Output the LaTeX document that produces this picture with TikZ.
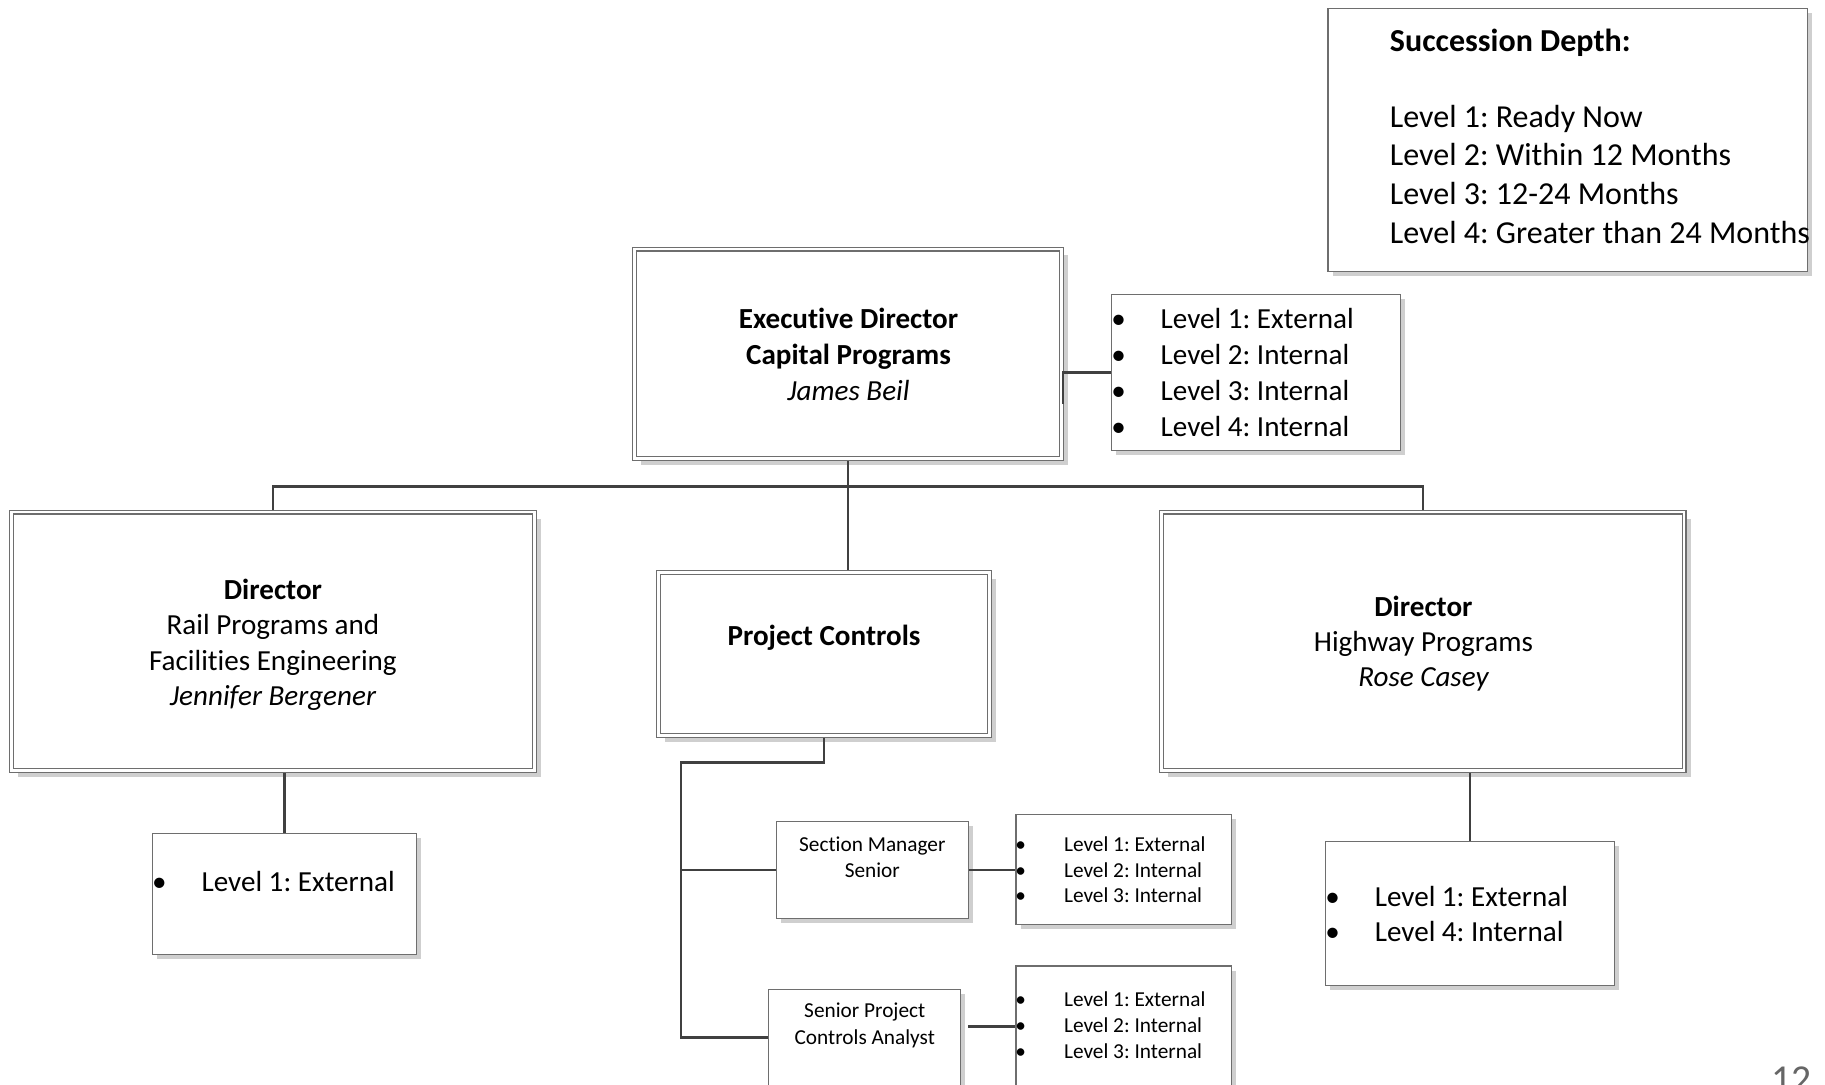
\documentclass[tikz,border=0pt]{standalone}
\usepackage{fontspec}
\setmainfont{Carlito}[Ligatures={NoCommon}]
\frenchspacing
\usetikzlibrary{shadows}
\definecolor{linec}{HTML}{404040}
\definecolor{boxc}{HTML}{6E6E6E}
\definecolor{shadowc}{HTML}{CFCFCF}
\definecolor{pagec}{HTML}{666666}
\begin{document}
\begin{tikzpicture}[x=1pt,y=-1pt,
  conn/.style={draw=linec, line width=2pt},
  dbox/.style={shape=rectangle, draw=boxc, line width=1pt, double=white, double distance=2.2pt,
    fill=white, inner sep=0pt, outer sep=2.1pt,
    drop shadow={shadow xshift=5.5pt, shadow yshift=-5.5pt, fill=shadowc, draw=none, opacity=1}},
  sbox/.style={shape=rectangle, draw=boxc, line width=1.1pt, fill=white, inner sep=0pt, outer sep=0.55pt,
    drop shadow={shadow xshift=4pt, shadow yshift=-4pt, fill=shadowc, draw=none, opacity=1}},
  tbig/.style={font=\fontsize{25}{30}\selectfont, inner sep=0pt, anchor=base, yshift=-1.5pt},
  tbigl/.style={tbig, anchor=base west},
  tleg/.style={font=\fontsize{27.5}{33}\selectfont, inner sep=0pt, anchor=base west, yshift=-1.5pt},
  tsm/.style={font=\fontsize{18.3}{22}\selectfont, inner sep=0pt, anchor=base, yshift=-1pt},
  tsml/.style={tsm, anchor=base west},
]
\useasboundingbox (0,0) rectangle (1568,932);
\clip (0,0) rectangle (1568,932);
\fill[white] (0,0) rectangle (1568,932);

% ---------- boxes ----------
\node[sbox, minimum width=412pt, minimum height=226pt] (legend) at (1347,120) {};
\node[dbox, minimum width=367pt, minimum height=180pt] (execbox) at (728.5,304) {};
\node[sbox, minimum width=248pt, minimum height=134pt] (execlist) at (1079,320) {};
\node[dbox, minimum width=449pt, minimum height=222pt] (rail) at (234.5,551) {};
\node[dbox, minimum width=284pt, minimum height=140pt] (pc) at (708,562) {};
\node[dbox, minimum width=449pt, minimum height=222pt] (hwy) at (1222.5,551) {};
\node[sbox, minimum width=227pt, minimum height=104pt] (raillist) at (244.5,768) {};
\node[sbox, minimum width=248pt, minimum height=124pt] (hwylist) at (1263,785) {};
\node[sbox, minimum width=165pt, minimum height=83pt] (secmgr) at (749.5,747.5) {};
\node[sbox, minimum width=185pt, minimum height=94pt] (seclist) at (965.5,747) {};
\node[sbox, minimum width=165pt, minimum height=83pt] (spca) at (742.5,891.5) {};
\node[sbox, minimum width=185pt, minimum height=104pt] (spcalist) at (965.5,882) {};

% ---------- connectors ----------
\draw[conn] (execbox.south) -- ++(0,22) -| (rail.north);
\draw[conn] (execbox.south) -- ++(0,22) -| (hwy.north);
\draw[conn] (execbox.south) -- (execbox.south |- pc.north);
\draw[conn] (execlist.west) -- ++(-41,0) -- ++(0,27);
\draw[conn] (raillist.north) -- (raillist.north |- rail.south);
\draw[conn] (hwylist.north) -- (hwylist.north |- hwy.south);
\coordinate (trunk) at (585,655);
\draw[conn] (pc.south) |- (trunk) |- (secmgr.west);
\draw[conn] (trunk) |- (spca.west);
\draw[conn] (secmgr.east) -- (secmgr.east -| seclist.west);
\draw[conn] (spcalist.west) -- ++(-41,0);

% ---------- legend ----------
\node[tleg] (lg0) at (1194,43) {\bfseries Succession Depth:};
\node[tleg] (lg1) at (1194,108) {Level 1: Ready Now};
\node[tleg] (lg2) at (1194,141) {Level 2: Within 12 Months};
\node[tleg] (lg3) at (1194,174.5) {Level 3: 12-24 Months};
\node[tleg] (lg4) at (1194,207.5) {Level 4: Greater than 24 Months};

% ---------- executive ----------
\node[tbig] (ed1) at (729,280.5) {\bfseries Executive Director};
\node[tbig] (ed2) at (729,311.5) {\bfseries Capital Programs};
\node[tbig] (ed3) at (729,342.5) {\itshape James Beil};
\node[tbig] (eb1) at (961,280.5) {\textbullet};
\node[tbig] (eb2) at (961,311.5) {\textbullet};
\node[tbig] (eb3) at (961,342.5) {\textbullet};
\node[tbig] (eb4) at (961,373.5) {\textbullet};
\node[tbigl] (el1) at (997,280.5) {Level 1: External};
\node[tbigl] (el2) at (997,311.5) {Level 2: Internal};
\node[tbigl] (el3) at (997,342.5) {Level 3: Internal};
\node[tbigl] (el4) at (997,373.5) {Level 4: Internal};

% ---------- rail ----------
\node[tbig] (rd1) at (234.5,513.5) {\bfseries Director};
\node[tbig] (rd2) at (234.5,544) {Rail Programs and};
\node[tbig] (rd3) at (234.5,574.5) {Facilities Engineering};
\node[tbig] (rd4) at (234.5,605) {\itshape Jennifer Bergener};
\node[tbig] (rb1) at (137,764.5) {\textbullet};
\node[tbigl] (rl1) at (173,764.5) {Level 1: External};

% ---------- project controls ----------
\node[tbig] (pc1) at (708,553.5) {\bfseries Project Controls};

% ---------- highway ----------
\node[tbig] (hd1) at (1223,528.5) {\bfseries Director};
\node[tbig] (hd2) at (1223,558.5) {Highway Programs};
\node[tbig] (hd3) at (1223,588.5) {\itshape Rose Casey};
\node[tbig] (hb1) at (1145,777.5) {\textbullet};
\node[tbig] (hb2) at (1145,807.5) {\textbullet};
\node[tbigl] (hl1) at (1181,777.5) {Level 1: External};
\node[tbigl] (hl2) at (1181,807.5) {Level 4: Internal};

% ---------- section manager ----------
\node[tsm] (sm1) at (749.5,730.5) {Section Manager};
\node[tsm] (sm2) at (749.5,752.5) {Senior};
\node[tsm] (sb1) at (877,730.5) {\textbullet};
\node[tsm] (sb2) at (877,752.5) {\textbullet};
\node[tsm] (sb3) at (877,774.5) {\textbullet};
\node[tsml] (sl1) at (914,730.5) {Level 1: External};
\node[tsml] (sl2) at (914,752.5) {Level 2: Internal};
\node[tsml] (sl3) at (914,774.5) {Level 3: Internal};

% ---------- senior project controls analyst ----------
\node[tsm] (sp1) at (743,873.5) {Senior Project};
\node[tsm] (sp2) at (743,896.5) {Controls Analyst};
\node[tsm] (pb1) at (877,863.5) {\textbullet};
\node[tsm] (pb2) at (877,886.5) {\textbullet};
\node[tsm] (pb3) at (877,908.5) {\textbullet};
\node[tsml] (pl1) at (914,863.5) {Level 1: External};
\node[tsml] (pl2) at (914,886.5) {Level 2: Internal};
\node[tsml] (pl3) at (914,908.5) {Level 3: Internal};

% ---------- page number ----------
\node[font=\fontsize{34}{40}\selectfont, text=pagec, inner sep=0pt, anchor=base west] (pgnum) at (1522,938.5) {12};
\end{tikzpicture}
\end{document}
